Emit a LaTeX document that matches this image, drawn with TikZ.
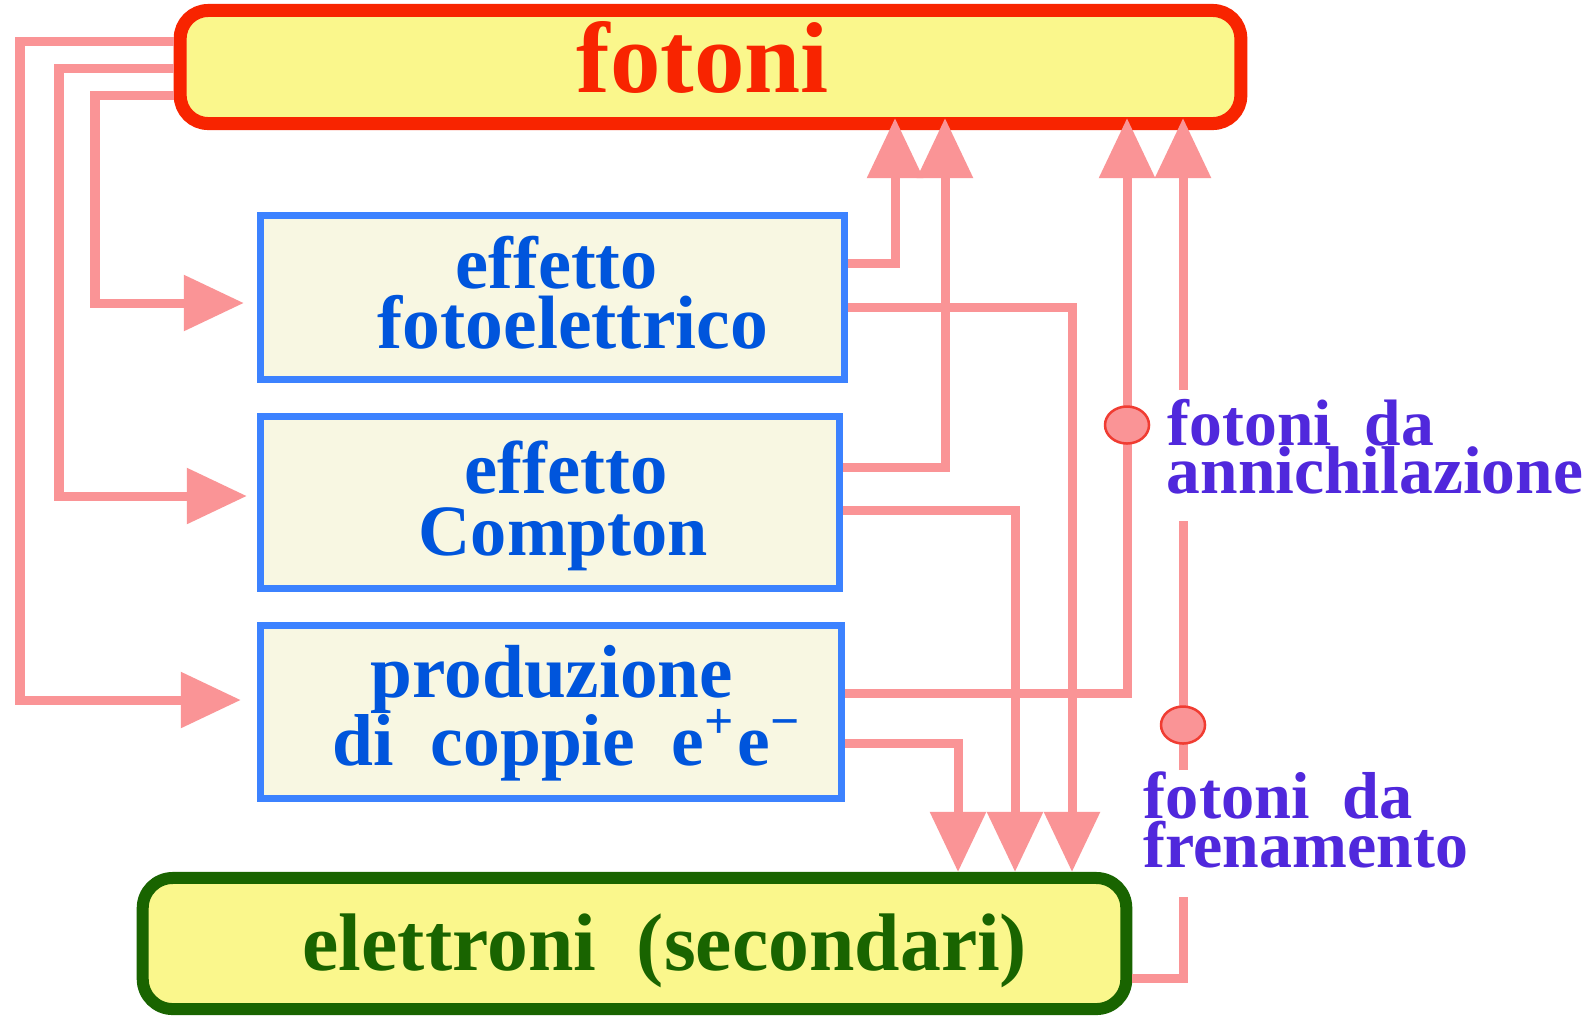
\documentclass[tikz,border=0pt]{standalone}
\usepackage{fontspec}
\setmainfont{Liberation Serif}
\usetikzlibrary{arrows.meta,shapes.geometric}
\definecolor{redc}{RGB}{248,36,0}
\definecolor{yel}{RGB}{250,247,140}
\definecolor{bluebd}{RGB}{60,130,255}
\definecolor{bluetx}{RGB}{0,85,220}
\definecolor{cream}{RGB}{248,247,226}
\definecolor{pinkline}{RGB}{250,148,150}
\definecolor{dotred}{RGB}{240,60,50}
\definecolor{greenc}{RGB}{25,100,0}
\definecolor{purp}{RGB}{80,40,220}
\tikzset{
  fbox/.style={draw=redc, fill=yel, line width=0.13cm, rounded corners=0.28cm,
    minimum width=10.6cm, minimum height=1.13cm, inner sep=0pt},
  bbox/.style={draw=bluebd, fill=cream, line width=0.07cm, inner sep=0pt},
  ebox/.style={draw=greenc, fill=yel, line width=0.12cm, rounded corners=0.3cm,
    minimum width=9.83cm, minimum height=1.31cm, inner sep=0pt},
  conn/.style={draw=pinkline, line width=0.09cm},
  arr/.style={-{Triangle[length=0.6cm,width=0.54cm]}},
  dot/.style={ellipse, fill=pinkline, draw=dotred, line width=0.025cm,
    minimum width=0.44cm, minimum height=0.37cm, inner sep=0pt},
  txt/.style={anchor=base west, inner sep=0pt, font=\bfseries},
}
\begin{document}
\begin{tikzpicture}[x=0.01cm, y={(0,-0.01cm)}]
\useasboundingbox (0,0) rectangle (1595,1017);
\fill[white] (0,0) rectangle (1595,1017);

% boxes
\node[fbox] (fotoni) at (710.5,67) {};
\node[bbox, minimum width=5.84cm, minimum height=1.64cm] (fe) at (552.5,297.5) {};
\node[bbox, minimum width=5.79cm, minimum height=1.72cm] (co) at (550,502.5) {};
\node[bbox, minimum width=5.81cm, minimum height=1.73cm] (pp) at (551,712) {};
\node[ebox] (el) at (634.5,943.5) {};

% helper coordinates
\coordinate (feIn) at ([xshift=-0.13cm]fe.west);
\coordinate (coIn) at ([xshift=-0.10cm]co.west);
\coordinate (ppIn) at ([xshift=-0.16cm]pp.west);
\coordinate (fotTip) at ([yshift=0.12cm]fotoni.south);
\coordinate (b1) at (1183,897);
\coordinate (b2) at (1183,770);
\coordinate (b3) at (1183,521);
\coordinate (b4) at (1183,390);

% left connectors: fotoni -> processes
\draw[conn,arr] (fotoni.west |- 0,95) -| (95,303) -- (feIn |- 0,303);
\draw[conn,arr] (fotoni.west |- 0,68) -| (59,496) -- (coIn |- 0,496);
\draw[conn,arr] (fotoni.west |- 0,41) -| (20,700) -- (ppIn |- 0,700);

% right connectors: processes -> fotoni
\draw[conn,arr] (fe.east |- 0,263) -| (fotTip -| 895,0);
\draw[conn,arr] (co.east |- 0,467) -| (fotTip -| 945,0);
\draw[conn,arr] (pp.east |- 0,693) -| (fotTip -| 1127,0);

% processes -> elettroni
\draw[conn,arr] (fe.east |- 0,307) -| (el.north -| 1072,0);
\draw[conn,arr] (co.east |- 0,510) -| (el.north -| 1015,0);
\draw[conn,arr] (pp.east |- 0,743) -| (el.north -| 958,0);

% elettroni -> fotoni (frenamento)
\draw[conn] (el.east |- 0,978) -| (b1);
\draw[conn] (b2) -- (b3);
\draw[conn,arr] (b4) -- (fotTip -| b4);

% markers
\node[dot] (d1) at (1127,425) {};
\node[dot] (d2) at (1183,725) {};

% texts
\node[txt, text=redc] (tfot) at (576,92) {\resizebox{2.52cm}{!}{fotoni}};
\node[txt, text=bluetx] (tfe1) at (455,288) {\resizebox{2.02cm}{!}{effetto}};
\node[txt, text=bluetx] (tfe2) at (377,348) {\resizebox{3.90cm}{!}{fotoelettrico}};
\node[txt, text=bluetx] (tco1) at (464,493) {\resizebox{2.03cm}{!}{effetto}};
\node[txt, text=bluetx] (tco2) at (418,555) {\resizebox{2.89cm}{!}{Compton}};
\node[txt, text=bluetx] (tpp1) at (370,697) {\resizebox{3.62cm}{!}{produzione}};
\node[txt, text=bluetx] (tpp2) at (332,765) {\resizebox{4.70cm}{!}{di\ \ coppie\ \ e\textsuperscript{+}e\textsuperscript{−}}};
\node[txt, text=greenc] (tel) at (302,970) {\resizebox{7.24cm}{!}{elettroni\ \ (secondari)}};
\node[txt, text=purp] (la1) at (1167,445) {\resizebox{2.66cm}{!}{fotoni\ \ da}};
\node[txt, text=purp] (la2) at (1166,493) {\resizebox{4.16cm}{!}{annichilazione}};
\node[txt, text=purp] (lf1) at (1143,818) {\resizebox{2.69cm}{!}{fotoni\ \ da}};
\node[txt, text=purp] (lf2) at (1143,867) {\resizebox{3.24cm}{!}{frenamento}};
\end{tikzpicture}
\end{document}
